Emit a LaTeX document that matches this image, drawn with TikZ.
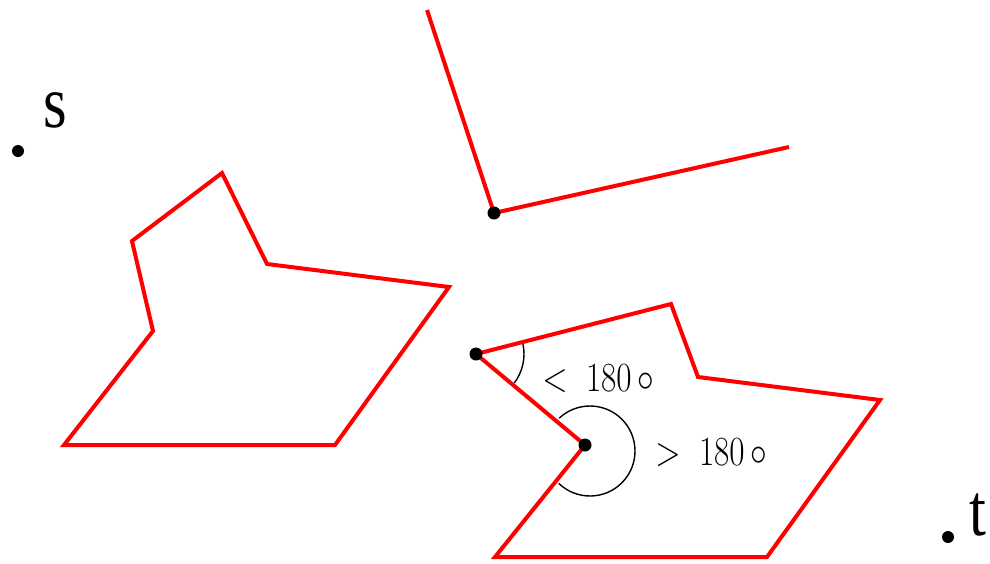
\documentclass[tikz,border=0pt]{standalone}
\usepackage{fontspec}
\setmainfont{Liberation Serif}
\begin{document}
\begin{tikzpicture}[x=0.5pt,y=-0.5pt,
  edge/.style={red,line width=2pt,line join=miter},
  vdot/.style={fill=black,draw=none},
  angarc/.style={black,line width=0.7pt},
  anglbl/.style={anchor=base west,inner sep=0pt,xscale=0.8,font=\fontsize{20.74}{25}\selectfont},
  ptlbl/.style={anchor=base west,inner sep=0pt,xscale=0.82,font=\fontsize{37}{40}\selectfont}]
\useasboundingbox (0,0) rectangle (990,563);
% left polygon
\coordinate (a1) at (222,173); \coordinate (a2) at (267,264); \coordinate (a3) at (449,287);
\coordinate (a4) at (335,445); \coordinate (a5) at (64,445); \coordinate (a6) at (153,331);
\coordinate (a7) at (132,241);
\draw[edge] (a1) -- (a2) -- (a3) -- (a4) -- (a5) -- (a6) -- (a7) -- cycle;
% top polyline
\coordinate (b1) at (427,10); \coordinate (b2) at (494,213); \coordinate (b3) at (789,147);
\draw[edge] (b1) -- (b2) -- (b3);
% bottom polygon
\coordinate (c1) at (476,354); \coordinate (c2) at (671,304); \coordinate (c3) at (698,377);
\coordinate (c4) at (880,400); \coordinate (c5) at (767,557); \coordinate (c6) at (495,557);
\coordinate (c7) at (585,445);
\draw[edge] (c1) -- (c2) -- (c3) -- (c4) -- (c5) -- (c6) -- (c7) -- cycle;
% angle arcs
\draw[angarc] ([shift={(-12:48)}]476,354) arc[start angle=-12,end angle=37,radius=48];
\draw[angarc] ([shift={(134:45)}]590,451) arc[start angle=134,end angle=-133,radius=45];
% dots
\fill[vdot] (b2) circle (6.5);
\fill[vdot] (c1) circle (6.5);
\fill[vdot] (c7) circle (6.5);
\fill[vdot] (18,151) circle (6);
\fill[vdot] (948,537) circle (6);
% labels
\node[anglbl] (l1) at (542,391) {$<\;180\,\circ$};
\node[anglbl] (l2) at (655,465) {$>\;180\,\circ$};
\node[ptlbl] (s) at (43,127) {s};
\node[ptlbl] (t) at (969,535) {t};
\end{tikzpicture}
\end{document}
